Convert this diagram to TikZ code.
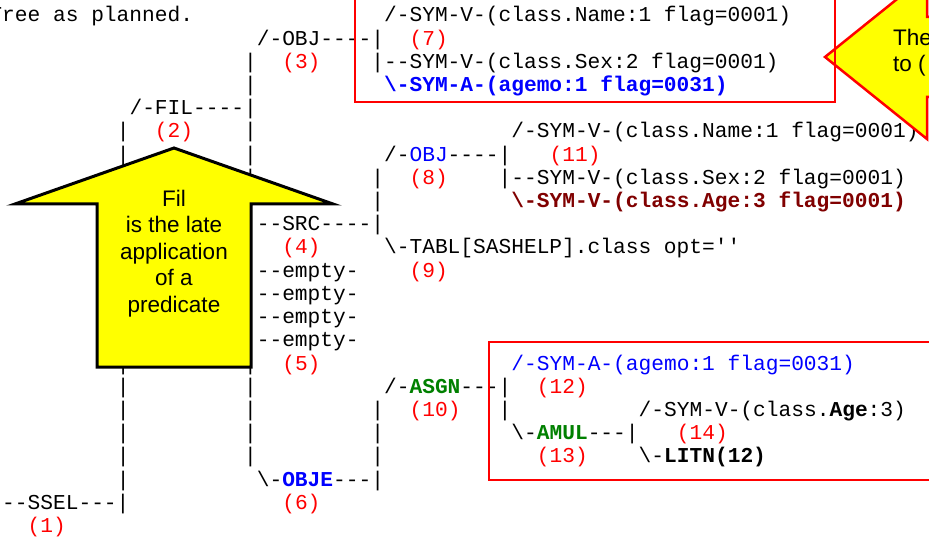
\documentclass[tikz,border=0pt]{standalone}
\usepackage{fontspec}
\newfontfamily\treefont{Liberation Mono}[Ligatures=TeXOff]
\newfontfamily\notefont{Liberation Sans}
\definecolor{lblred}{RGB}{255,0,0}
\definecolor{objblue}{RGB}{0,0,255}
\definecolor{opgreen}{RGB}{0,128,0}
\definecolor{symred}{RGB}{128,0,0}
\definecolor{noteyellow}{RGB}{255,255,0}
\tikzset{
  tree/.style={anchor=base west, inner sep=0pt, font=\treefont\fontsize{21.2}{23.2}\selectfont},
  lbl/.style={tree, text=lblred},
  note/.style={font=\notefont\fontsize{22.5}{26.5}\selectfont, align=center, inner sep=0pt},
  frame/.style={draw=lblred, line width=2pt},
}
\begin{document}
\begin{tikzpicture}[x=1pt,y=-1pt]
\useasboundingbox (0,0) rectangle (929,537);
% the tree, one column = one character, one row = one line
\begin{scope}[shift={(-10.7pt,-22pt)}, x=12.73pt, y=-23.2pt]
  \node[tree] (title) at (0,0) {Tree as planned.};
  % bars (the ones under the big arrow are left out)
  \foreach \r in {5,6,15,16,...,20}
    \node[tree] at (10,\r) {|};
  \foreach \r in {2,3,5,6,7,15,16,...,19}
    \node[tree] at (20,\r) {|};
  \foreach \r in {7,8,17,18,19}
    \node[tree] at (30,\r) {|};
  \node[tree] at (40,17) {|};
  % operators
  \node[tree] (ssel) at (1,21) {--SSEL---|};
  \node[tree] (fil) at (11,4) {/-FIL----|};
  \node[tree] (obj1) at (21,1) {/-OBJ----|};
  \node[tree] (src) at (21,9) {--SRC----|};
  \foreach \r in {11,...,14}
    \node[tree] at (21,\r) {--empty-};
  \node[tree] (obje) at (21,20) {\textbackslash-\textcolor{objblue}{\bfseries OBJE}---|};
  \node[tree] (obj2) at (31,6) {/-\textcolor{objblue}{OBJ}----|};
  \node[tree] (tabl) at (31,10) {\textbackslash-TABL[SASHELP].class opt=''};
  \node[tree] (asgn) at (31,16) {/-\textcolor{opgreen}{\bfseries ASGN}---|};
  \node[tree] (amul) at (41,18) {\textbackslash-\textcolor{opgreen}{\bfseries AMUL}---|};
  % symbols
  \node[tree] (name1) at (31,0) {/-SYM-V-(class.Name:1 flag=0001)};
  \node[tree] (sex1) at (30,2) {|--SYM-V-(class.Sex:2 flag=0001)};
  \node[tree, text=objblue] (agemo1) at (31,3) {\bfseries\textbackslash-SYM-A-(agemo:1 flag=0031)};
  \node[tree] (name2) at (41,5) {/-SYM-V-(class.Name:1 flag=0001)};
  \node[tree] (sex2) at (40,7) {|--SYM-V-(class.Sex:2 flag=0001)};
  \node[tree, text=symred] (age2) at (41,8) {\bfseries\textbackslash-SYM-V-(class.Age:3 flag=0001)};
  \node[tree, text=objblue] (agemo2) at (41,15) {/-SYM-A-(agemo:1 flag=0031)};
  \node[tree] (age3) at (51,17) {/-SYM-V-(class.\textbf{Age}:3)};
  \node[tree] (litn) at (51,19) {\textbackslash-\textbf{LITN(12)}};
  % numbers
  \node[lbl] (n1) at (3,22) {(1)};
  \node[lbl] (n2) at (13,5) {(2)};
  \node[lbl] (n3) at (23,2) {(3)};
  \node[lbl] (n4) at (23,10) {(4)};
  \node[lbl] (n5) at (23,15) {(5)};
  \node[lbl] (n6) at (23,21) {(6)};
  \node[lbl] (n7) at (33,1) {(7)};
  \node[lbl] (n8) at (33,7) {(8)};
  \node[lbl] (n9) at (33,11) {(9)};
  \node[lbl] (n10) at (33,17) {(10)};
  \node[lbl] (n11) at (44,6) {(11)};
  \node[lbl] (n12) at (43,16) {(12)};
  \node[lbl] (n13) at (43,19) {(13)};
  \node[lbl] (n14) at (54,18) {(14)};
\end{scope}

% callouts
\draw[fill=noteyellow, line width=3pt, line join=miter]
  (174,148) -- (333,204) -- (251,204) -- (251,367) -- (97,367) -- (97,204) -- (15,204) -- cycle;
\node[note] (fil note) at (174,253.4) {Fil\\is the late\\application\\of a\\predicate};

\draw[fill=noteyellow, draw=lblred, line width=2.5pt]
  (825,57) -- (927,-25) -- (927,17) -- (960,17) -- (960,97) -- (927,97) -- (927,139) -- cycle;
\node[note, align=left, anchor=north west] (obj note) at (893,28.6) {The\\to (};

% frames
\draw[frame] (355,-5) rectangle (835,102);
\draw[frame] (489,342) rectangle (940,480);
\end{tikzpicture}
\end{document}
